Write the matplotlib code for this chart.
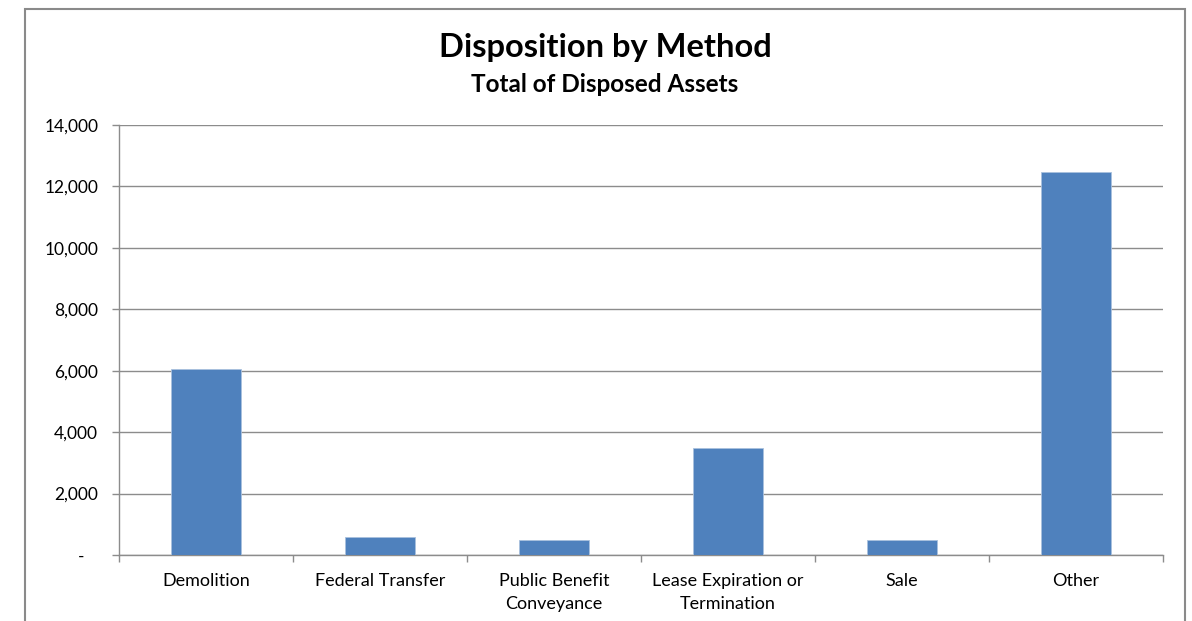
import numpy as np
import matplotlib.pyplot as plt
from matplotlib.patches import Rectangle
from matplotlib.ticker import FuncFormatter

categories = ['Demolition', 'Federal Transfer', 'Public Benefit\nConveyance',
              'Lease Expiration or\nTermination', 'Sale', 'Other']
values = [6060, 600, 490, 3475, 490, 12470]
y_ticks = [0, 2000, 4000, 6000, 8000, 10000, 12000, 14000]

plt.rcParams['font.family'] = ['Lato', 'DejaVu Sans']
grid_col = '#8c8c8c'
bar_col = '#4f81bd'

fig = plt.figure(figsize=(11.92, 6.21), dpi=100)
ax = fig.add_axes([119 / 1192, 66 / 621, 1044 / 1192, 430 / 621])

x = np.arange(len(categories))
ax.bar(x, values, width=0.4, color=bar_col, edgecolor='#a9c1de', linewidth=0.6, zorder=3)

ax.set_xlim(-0.5, len(categories) - 0.5)
ax.set_ylim(0, 14000)
ax.set_yticks(y_ticks)
ax.yaxis.set_major_formatter(FuncFormatter(lambda v, p: '-   ' if v == 0 else f'{int(v):,}'))
ax.grid(axis='y', color=grid_col, linewidth=1.0, zorder=0)

# category labels in the middle, tick marks on the boundaries
ax.set_xticks(x)
ax.set_xticklabels(categories, fontsize=13, linespacing=1.5)
ax.tick_params(axis='x', which='major', length=0, pad=13)
ax.set_xticks(np.arange(-0.5, len(categories)), minor=True)
ax.tick_params(axis='x', which='minor', length=5, color=grid_col, width=1)
ax.tick_params(axis='y', length=5, color=grid_col, width=1, labelsize=12.5, pad=10)

for s in ['top', 'right']:
    ax.spines[s].set_visible(False)
for s in ['left', 'bottom']:
    ax.spines[s].set_color(grid_col)
    ax.spines[s].set_linewidth(1.0)

fig.text(605 / 1192, 1 - 47 / 621, 'Disposition by Method', ha='center', va='center',
         fontsize=23.5, fontweight='bold')
fig.text(605 / 1192, 1 - 85 / 621, 'Total of Disposed Assets', ha='center', va='center',
         fontsize=17.5, fontweight='bold')

# outer chart frame (bottom runs off the picture)
fig.patches.append(Rectangle((25 / 1192, -0.05), 1160 / 1192, 1.05 - 9 / 621,
                             transform=fig.transFigure, fill=False,
                             edgecolor='#8a8a8a', linewidth=1.5))

fig.savefig('out.png', dpi=100)
